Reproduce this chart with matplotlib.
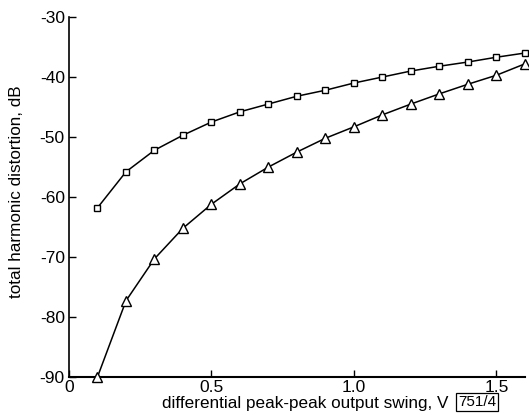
import matplotlib
matplotlib.use("Agg")
import matplotlib.pyplot as plt

plt.rcParams['font.family'] = ['Liberation Sans', 'DejaVu Sans']

swing = [0.1, 0.2, 0.3, 0.4, 0.5, 0.6, 0.7, 0.8, 0.9, 1.0, 1.1, 1.2, 1.3, 1.4, 1.5, 1.6]
thd_square = [-61.8, -55.8, -52.2, -49.7, -47.5, -45.8, -44.5, -43.2, -42.2, -41.0,
              -40.0, -39.0, -38.2, -37.5, -36.7, -36.0]
thd_triangle = [-90.0, -77.3, -70.3, -65.2, -61.2, -57.8, -55.0, -52.5, -50.2, -48.3,
                -46.3, -44.5, -42.8, -41.2, -39.7, -37.8]
xticks = [0, 0.5, 1.0, 1.5]
xticklabels = ["0", "0.5", "1.0", "1.5"]
yticks = [-90, -80, -70, -60, -50, -40, -30]

fig = plt.figure(figsize=(5.29, 4.15), dpi=100)
ax = fig.add_axes([0.1304, 0.0916, 0.862, 0.8674])

ax.plot(swing, thd_square, color='black', lw=1.1, marker='s', ms=5,
        mfc='white', mec='black', mew=1.0, clip_on=False, zorder=3)
ax.plot(swing, thd_triangle, color='black', lw=1.1, marker='^', ms=7,
        mfc='white', mec='black', mew=1.0, clip_on=False, zorder=3)

ax.set_xlim(0, 1.6)
ax.set_ylim(-90, -30)
ax.set_xticks(xticks)
ax.set_xticklabels(xticklabels)
ax.set_yticks(yticks)
ax.set_yticklabels([str(v) for v in yticks])

for s in ['top', 'right']:
    ax.spines[s].set_visible(False)
ax.spines['left'].set_linewidth(1.2)
ax.spines['bottom'].set_linewidth(1.5)
ax.tick_params(direction='in', length=5, width=1.0, labelsize=12.5, pad=3, color='black')
ax.tick_params(axis='x', pad=2)

ax.set_ylabel("total harmonic distortion, dB", fontsize=12.3)
ax.yaxis.label.set_va('center')
ax.yaxis.set_label_coords(-0.114, 0.514)
ax.set_xlabel("differential peak-peak output swing, V", fontsize=12.3)
ax.xaxis.label.set_va('center')
ax.xaxis.set_label_coords(0.518, -0.073)

fig.text(0.902, 0.032, "751/4", fontsize=11, ha='center', va='center',
         bbox=dict(boxstyle='square,pad=0.12', fc='white', ec='black', lw=0.9))

fig.savefig("out.png", dpi=100)
